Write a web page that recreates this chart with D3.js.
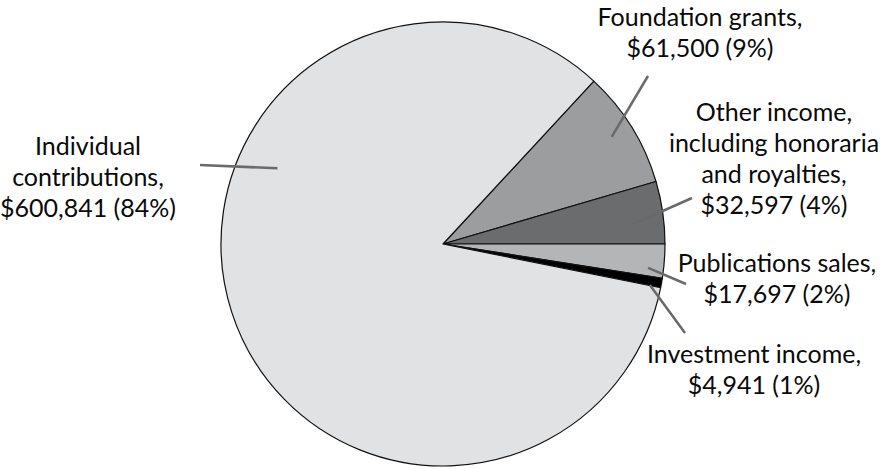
<!DOCTYPE html>
<html>
<head>
<meta charset="utf-8">
<script src="https://cdn.jsdelivr.net/npm/d3@7"></script>
<style>
  html, body { margin: 0; padding: 0; background: #fff; }
  svg text { font-family: Lato, "Open Sans", sans-serif; font-size: 25px; fill: #0a0a0a; }
</style>
</head>
<body>
<div id="chart"></div>
<script>
(function() {
  // income sources, clockwise from the top-right
  var categories = ['Foundation grants', 'Other income', 'Publications sales', 'Investment income', 'Individual contributions'];
  var amounts = [61500, 32597, 17697, 4941, 600841];
  var labels = [
    ['Foundation grants,', '$61,500 (9%)'],
    ['Other income,', 'including honoraria', 'and royalties,', '$32,597 (4%)'],
    ['Publications sales,', '$17,697 (2%)'],
    ['Investment income,', '$4,941 (1%)'],
    ['Individual', 'contributions,', '$600,841 (84%)']
  ];
  var colors = ['#9c9d9f', '#6b6c6e', '#b4b5b7', '#000000', '#e1e2e3'];

  // label placement: text centre/first baseline, leader outer end,
  // leader inner end as radius fraction and position along the slice
  var placement = [
    { x: 700, y: 26,  lx: 648, ly: 76,  r: 0.90, f: 0.48 },
    { x: 774, y: 121, lx: 692, ly: 198, r: 0.85, f: 0.65 },
    { x: 777, y: 272, lx: 686, ly: 284, r: 0.93, f: 0.75 },
    { x: 754, y: 363, lx: 685, ly: 333, r: 0.95, f: 0.94 },
    { x: 88,  y: 155, lx: 200, ly: 165, r: 0.82, f: 0.641 }
  ];

  var width = 895,
      height = 469,
      cx = 443,
      cy = 244,
      radius = 222,
      lineHeight = 31;

  var data = categories.map(function(c, i) {
    return { name: c, amount: amounts[i], label: labels[i], color: colors[i], pos: placement[i] };
  });

  var total = d3.sum(amounts);
  // rotate so the Other income / Publications boundary sits on the horizontal
  var start = Math.PI / 2 - (amounts[0] + amounts[1]) / total * 2 * Math.PI;

  var pie = d3.pie()
      .sort(null)
      .value(function(d) { return d.amount; })
      .startAngle(start)
      .endAngle(start + 2 * Math.PI);

  var arc = d3.arc().innerRadius(0).outerRadius(radius);

  function anchor(d) {
    var a = d.startAngle + (d.endAngle - d.startAngle) * d.data.pos.f,
        r = radius * d.data.pos.r;
    return [Math.sin(a) * r, -Math.cos(a) * r];
  }

  var svg = d3.select('#chart')
    .append('svg')
      .attr('width', width)
      .attr('height', height);

  var g = svg.append('g')
      .attr('transform', 'translate(' + cx + ',' + cy + ')');

  var arcs = pie(data);

  g.selectAll('path.slice')
    .data(arcs)
    .enter().append('path')
      .attr('class', 'slice')
      .attr('d', arc)
      .attr('fill', function(d) { return d.data.color; })
      .attr('stroke', '#111')
      .attr('stroke-width', 1.2)
      .attr('stroke-linejoin', 'round');

  // leader lines
  g.selectAll('line.leader')
    .data(arcs)
    .enter().append('line')
      .attr('class', 'leader')
      .attr('x1', function(d) { return anchor(d)[0]; })
      .attr('y1', function(d) { return anchor(d)[1]; })
      .attr('x2', function(d) { return d.data.pos.lx - cx; })
      .attr('y2', function(d) { return d.data.pos.ly - cy; })
      .attr('stroke', '#6a6a6a')
      .attr('stroke-width', 2.5);

  var text = svg.selectAll('text.label')
    .data(data)
    .enter().append('text')
      .attr('class', 'label')
      .attr('text-anchor', 'middle')
      .attr('x', function(d) { return d.pos.x; })
      .attr('y', function(d) { return d.pos.y; });

  text.selectAll('tspan')
    .data(function(d) { return d.label.map(function(t) { return { t: t, x: d.pos.x }; }); })
    .enter().append('tspan')
      .attr('x', function(d) { return d.x; })
      .attr('dy', function(d, i) { return i ? lineHeight : 0; })
      .text(function(d) { return d.t; });
})();
</script>
</body>
</html>
